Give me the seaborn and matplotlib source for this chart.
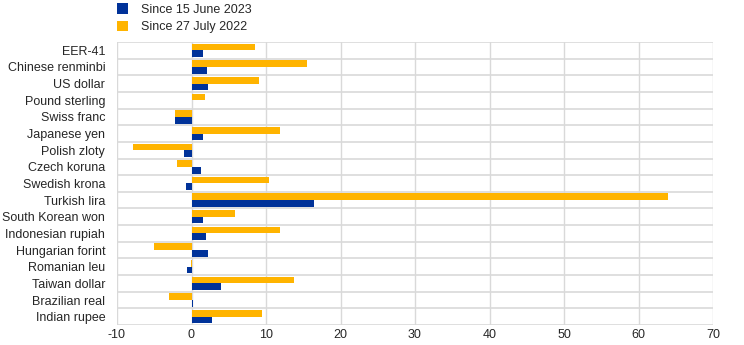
import numpy as np
import pandas as pd
import matplotlib
matplotlib.use("Agg")
import matplotlib.pyplot as plt
import seaborn as sns
from matplotlib.patches import Patch

currencies = [
    "EER-41", "Chinese renminbi", "US dollar", "Pound sterling", "Swiss franc",
    "Japanese yen", "Polish zloty", "Czech koruna", "Swedish krona", "Turkish lira",
    "South Korean won", "Indonesian rupiah", "Hungarian forint", "Romanian leu",
    "Taiwan dollar", "Brazilian real", "Indian rupee",
]
since_jun_2023 = [1.6, 2.1, 2.2, 0.1, -2.2, 1.6, -1.0, 1.3, -0.7, 16.4,
                  1.6, 2.0, 2.2, -0.6, 3.9, 0.2, 2.7]
since_jul_2022 = [8.5, 15.5, 9.0, 1.8, -2.2, 11.9, -7.8, -2.0, 10.4, 64.0,
                  5.8, 11.9, -5.1, -0.1, 13.7, -3.0, 9.4]
series_names = ["Since 15 June 2023", "Since 27 July 2022"]
x_ticks = [-10, 0, 10, 20, 30, 40, 50, 60, 70]

blue = "#003299"
orange = "#FFB400"

df = pd.DataFrame({
    "currency": currencies * 2,
    "value": since_jun_2023 + since_jul_2022,
    "series": [series_names[0]] * len(currencies) + [series_names[1]] * len(currencies),
})

sns.set_style("white")
plt.rcParams["font.family"] = ["Liberation Sans", "DejaVu Sans"]

fig = plt.figure(figsize=(7.44, 3.45), dpi=100)
ax = fig.add_axes([117 / 744, 1 - 325 / 345, (713 - 117) / 744, (325 - 42) / 345])

sns.barplot(
    data=df, y="currency", x="value", hue="series", orient="h",
    hue_order=[series_names[1], series_names[0]],
    palette={series_names[0]: blue, series_names[1]: orange},
    order=currencies, width=0.8, ax=ax, legend=False, saturation=1,
    linewidth=0,
)

ax.set_xlim(-10, 70)
ax.set_xticks(x_ticks)
ax.set_xticklabels([str(t) for t in x_ticks], fontsize=9)
ax.set_ylim(len(currencies) - 0.5, -0.5)
ax.set_yticks(range(len(currencies)))
ax.set_yticklabels(currencies, fontsize=9)
ax.set_yticks(np.arange(-0.5, len(currencies), 1), minor=True)
ax.set_xlabel("")
ax.set_ylabel("")

ax.grid(False)
ax.grid(which="minor", axis="y", color="#d9d9d9", linewidth=1.2)
ax.grid(which="major", axis="x", color="#d9d9d9", linewidth=1)
ax.set_axisbelow(True)
for s in ax.spines.values():
    s.set_visible(False)
ax.tick_params(axis="both", which="both", length=0)
ax.tick_params(axis="y", pad=8.5)
ax.tick_params(axis="x", pad=3)

handles = [Patch(facecolor=blue, edgecolor="none"), Patch(facecolor=orange, edgecolor="none")]
fig.legend(handles, series_names, loc="upper left", bbox_to_anchor=(112 / 744, 1.005),
           frameon=False, fontsize=9, handlelength=0.9, handleheight=0.9,
           handletextpad=1.0, labelspacing=0.4, borderaxespad=0)

fig.savefig("out.png", dpi=100)
